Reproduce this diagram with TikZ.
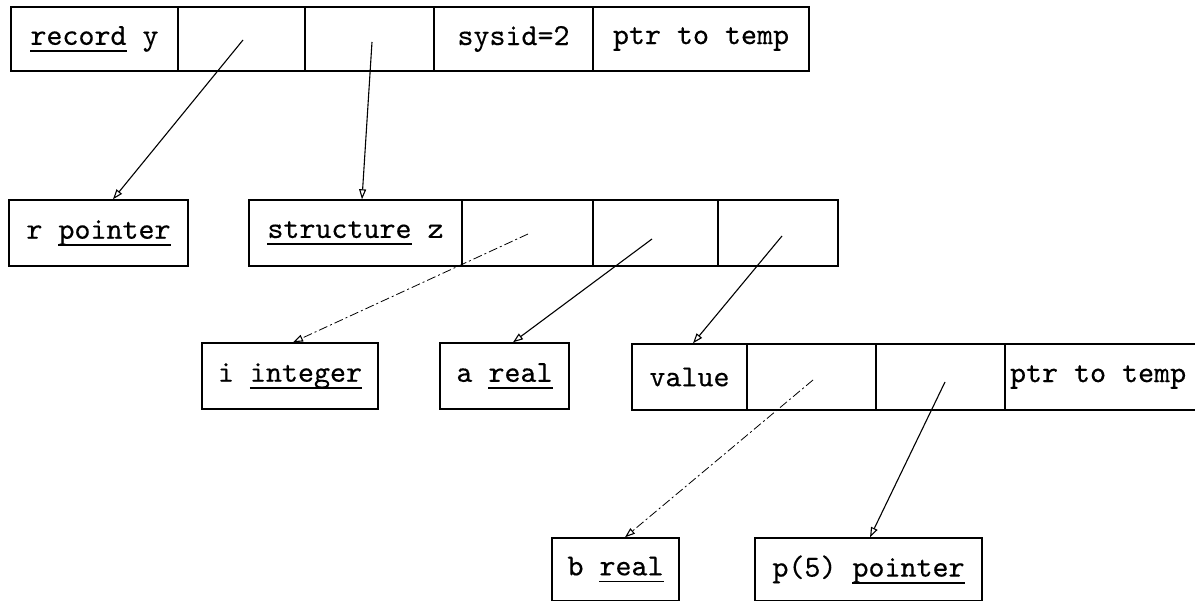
\documentclass[tikz,border=0pt]{standalone}
\usepackage{fontspec}
\setmonofont{lmmono10-regular.otf}[FakeBold=0.35]
\usetikzlibrary{arrows.meta}
\newcommand\myul[1]{\setbox0\hbox{#1}\rlap{\rule[-7pt]{\wd0}{1.8pt}}\box0\relax}
\begin{document}
\begin{tikzpicture}[x=1pt,y=-1pt,
  cell/.style={draw, line width=1.4pt, inner sep=0pt, font=\ttfamily\fontsize{30.5}{36}\selectfont},
  rowa/.style={cell, minimum height=64pt},
  rowb/.style={cell, minimum height=66pt},
  rowd/.style={cell, minimum height=63pt},
  ptr/.style={line width=1.1pt, -{Triangle[open,length=10pt,width=7pt,line width=1.1pt]}},
  faint/.style={ptr, line width=0.8pt, dash pattern=on 9pt off 3pt on 2pt off 3pt}]
\useasboundingbox (0,0) rectangle (1195,601);
\clip (0,0) rectangle (1195,601);
\fill[white] (0,0) rectangle (1195,601);
% row 1
\node[rowa, minimum width=167pt] (r1a) at (94.5,39) {\myul{record} y};
\node[rowa, minimum width=127pt] (r1b) at (241.5,39) {};
\node[rowa, minimum width=129pt] (r1c) at (369.5,39) {};
\node[rowa, minimum width=159pt] (r1d) at (513.5,39) {sysid=2};
\node[rowa, minimum width=216pt] (r1e) at (701,39) {ptr to temp};
% row 2
\node[rowb, minimum width=179pt] (rp) at (98.5,233) {r \myul{pointer}};
\node[rowb, minimum width=213pt] (s1) at (355.5,233) {\myul{structure} z};
\node[rowb, minimum width=131pt] (s2) at (527.5,233) {};
\node[rowb, minimum width=125pt] (s3) at (655.5,233) {};
\node[rowb, minimum width=120pt] (s4) at (778,233) {};
% row 3
\node[rowb, minimum width=176pt] (ii) at (290,376) {i \myul{integer}};
\node[rowb, minimum width=129pt] (ar) at (504.5,376) {a \myul{real}};
\node[rowb, minimum width=115pt] (v1) at (689.5,377) {value};
\node[rowb, minimum width=129pt] (v2) at (811.5,377) {};
\node[rowb, minimum width=129pt] (v3) at (940.5,377) {};
\node[rowb, minimum width=195pt] (v4) at (1102.5,377) {\makebox[185pt][l]{ptr to temp}};
% row 4
\node[rowd, minimum width=127pt] (br) at (615.5,569.5) {b \myul{real}};
\node[rowd, minimum width=227pt] (p5) at (868.5,569.5) {p(5) \myul{pointer}};
% pointer origins
\coordinate (d1) at (243,40);
\coordinate (d2) at (372,42);
\coordinate (d3) at (528,234);
\coordinate (d4) at (652,239);
\coordinate (d5) at (782,236);
\coordinate (d6) at (813,380);
\coordinate (d7) at (945,382);
% connectors
\draw[ptr] (d1) -- ([xshift=14.5pt]rp.north);
\draw[ptr] (d2) -- ([xshift=6.5pt]s1.north);
\draw[faint] (d3) -- ([xshift=3pt]ii.north);
\draw[ptr] (d4) -- ([xshift=8.5pt]ar.north);
\draw[ptr] (d5) -- ([xshift=3.5pt]v1.north);
\draw[faint] (d6) -- ([xshift=9.5pt]br.north);
\draw[ptr] (d7) -- ([xshift=1.5pt]p5.north);
\end{tikzpicture}
\end{document}
